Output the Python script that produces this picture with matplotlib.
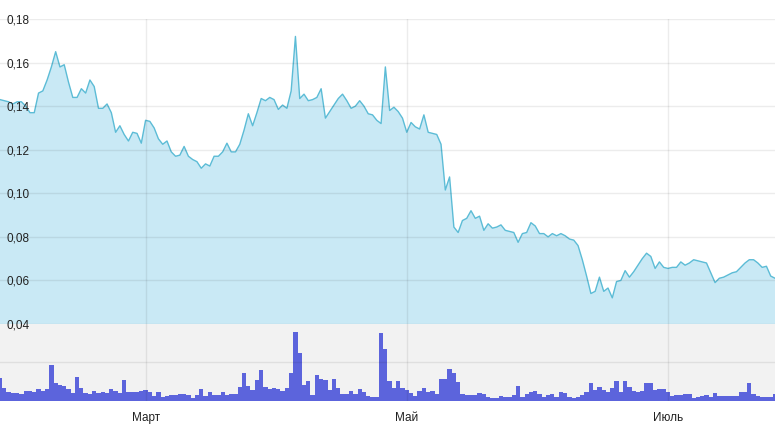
import numpy as np
import pandas as pd
import matplotlib
matplotlib.use('Agg')
import matplotlib.pyplot as plt
import matplotlib.dates as mdates

# daily closing price, 26 Jan - 26 Jul
price = [0.143, 0.1425, 0.142, 0.141, 0.142, 0.142, 0.140, 0.137, 0.137, 0.146,
         0.147, 0.152, 0.158, 0.165, 0.158, 0.159, 0.151, 0.144, 0.144, 0.148,
         0.146, 0.152, 0.149, 0.139, 0.139, 0.141, 0.137, 0.128, 0.131, 0.127,
         0.124, 0.128, 0.1275, 0.123, 0.1335, 0.133, 0.130, 0.125, 0.1225, 0.124,
         0.119, 0.117, 0.1175, 0.1215, 0.117, 0.1155, 0.1145, 0.1115, 0.1135, 0.1125,
         0.117, 0.117, 0.119, 0.123, 0.119, 0.119, 0.1225, 0.129, 0.1365, 0.131,
         0.137, 0.1435, 0.1425, 0.144, 0.143, 0.1385, 0.1405, 0.139, 0.147, 0.172,
         0.1435, 0.1455, 0.1425, 0.143, 0.144, 0.148, 0.1345, 0.1375, 0.1405, 0.1435,
         0.1455, 0.1425, 0.139, 0.140, 0.1425, 0.140, 0.1365, 0.136, 0.1335, 0.132,
         0.158, 0.138, 0.1395, 0.1375, 0.1345, 0.128, 0.1325, 0.1305, 0.1295, 0.136,
         0.128, 0.1275, 0.127, 0.1225, 0.1015, 0.1075, 0.0845, 0.082, 0.0875, 0.0885,
         0.092, 0.0885, 0.0895, 0.083, 0.086, 0.084, 0.0845, 0.0855, 0.083, 0.0825,
         0.082, 0.0775, 0.0815, 0.082, 0.0865, 0.085, 0.0815, 0.0815, 0.080, 0.0815,
         0.0805, 0.0815, 0.0805, 0.079, 0.0785, 0.076, 0.0695, 0.062, 0.054, 0.055,
         0.0615, 0.055, 0.0565, 0.052, 0.0595, 0.060, 0.0645, 0.0615, 0.064, 0.067,
         0.070, 0.0725, 0.071, 0.0655, 0.0685, 0.066, 0.0655, 0.066, 0.066, 0.0685,
         0.067, 0.068, 0.0695, 0.069, 0.0685, 0.068, 0.0635, 0.059, 0.061, 0.0615,
         0.0625, 0.0635, 0.064, 0.066, 0.068, 0.0695, 0.0695, 0.068, 0.066, 0.0665,
         0.062, 0.061]

# daily volume (relative units)
volume = [0.59, 0.33, 0.23, 0.2, 0.2, 0.18, 0.26, 0.26, 0.23, 0.3,
          0.26, 0.3, 0.92, 0.46, 0.41, 0.38, 0.3, 0.21, 0.62, 0.33,
          0.21, 0.18, 0.26, 0.2, 0.23, 0.21, 0.3, 0.26, 0.2, 0.55,
          0.24, 0.22, 0.24, 0.26, 0.28, 0.22, 0.13, 0.22, 0.09, 0.13,
          0.16, 0.16, 0.18, 0.18, 0.16, 0.07, 0.16, 0.3, 0.13, 0.22,
          0.16, 0.16, 0.24, 0.16, 0.18, 0.18, 0.37, 0.72, 0.39, 0.27,
          0.53, 0.8, 0.37, 0.3, 0.33, 0.3, 0.26, 0.34, 0.72, 1.77,
          1.23, 0.41, 0.52, 0.16, 0.66, 0.56, 0.53, 0.28, 0.57, 0.33,
          0.18, 0.18, 0.26, 0.18, 0.3, 0.22, 0.13, 0.09, 0.11, 1.73,
          1.34, 0.5, 0.33, 0.52, 0.33, 0.28, 0.2, 0.13, 0.26, 0.33,
          0.24, 0.26, 0.18, 0.56, 0.56, 0.83, 0.72, 0.48, 0.18, 0.16,
          0.16, 0.16, 0.2, 0.18, 0.11, 0.07, 0.07, 0.13, 0.09, 0.11,
          0.16, 0.39, 0.11, 0.18, 0.24, 0.26, 0.18, 0.11, 0.16, 0.18,
          0.11, 0.24, 0.2, 0.11, 0.07, 0.09, 0.16, 0.22, 0.46, 0.27,
          0.37, 0.28, 0.24, 0.34, 0.52, 0.24, 0.5, 0.37, 0.26, 0.24,
          0.26, 0.47, 0.47, 0.28, 0.31, 0.3, 0.22, 0.13, 0.16, 0.16,
          0.17, 0.18, 0.07, 0.09, 0.13, 0.16, 0.09, 0.2, 0.13, 0.13,
          0.13, 0.13, 0.13, 0.24, 0.24, 0.47, 0.18, 0.13, 0.11, 0.11,
          0.11, 0.18]

dates = pd.date_range('2018-01-26', periods=len(price), freq='D')

yticks = [0.04, 0.06, 0.08, 0.10, 0.12, 0.14, 0.16, 0.18]
month_ticks = pd.to_datetime(['2018-03-01', '2018-05-01', '2018-07-01'])
month_labels = ['Март', 'Май', 'Июль']

plt.rcParams['font.family'] = ['Liberation Sans', 'DejaVu Sans']

W, H = 775, 434
fig = plt.figure(figsize=(W / 100, H / 100), dpi=100)
fig.patch.set_facecolor('white')

grid_kw = dict(color='black', alpha=0.075, linewidth=1)

# volume panel (drawn first, sits below the price panel)
axv = fig.add_axes([0, (H - 401) / H, 1, 77 / H])
axv.set_zorder(1)
axv.set_facecolor('#f2f2f2')
axv.bar(dates, volume, width=1.0, color='#5c64dc', linewidth=0)
axv.set_xlim(dates[0], dates[-1])
axv.set_ylim(0, 1.97)
axv.set_yticks([1.0])
axv.set_yticklabels([])
axv.set_xticks(month_ticks)
axv.set_xticklabels(month_labels)
axv.tick_params(axis='both', length=0)
axv.tick_params(axis='x', pad=8, labelsize=8.5, labelcolor='#222222')
axv.grid(True, **grid_kw)
axv.set_axisbelow(False)
for s in axv.spines.values():
    s.set_visible(False)

# price panel
ax = fig.add_axes([0, (H - 324) / H, 1, 305 / H])
ax.set_zorder(2)
ax.patch.set_alpha(0)
ax.fill_between(dates, price, 0, color='#c9e9f5', linewidth=0)
ax.plot(dates, price, color='#5cbcd6', linewidth=1)
ax.set_xlim(dates[0], dates[-1])
ax.set_ylim(0.04, 0.18)
ax.set_yticks(yticks)
ax.set_yticklabels([('%.2f' % v).replace('.', ',') for v in yticks])
ax.set_xticks(month_ticks)
ax.set_xticklabels([])
ax.tick_params(axis='x', length=0)
ax.tick_params(axis='y', length=0, direction='in', pad=-5, labelsize=8.5,
               labelcolor='#222222')
for lab in ax.get_yticklabels():
    lab.set_horizontalalignment('left')
ax.grid(True, **grid_kw)
ax.set_axisbelow(False)
for s in ax.spines.values():
    s.set_visible(False)

plt.savefig('out.png', dpi=100)
